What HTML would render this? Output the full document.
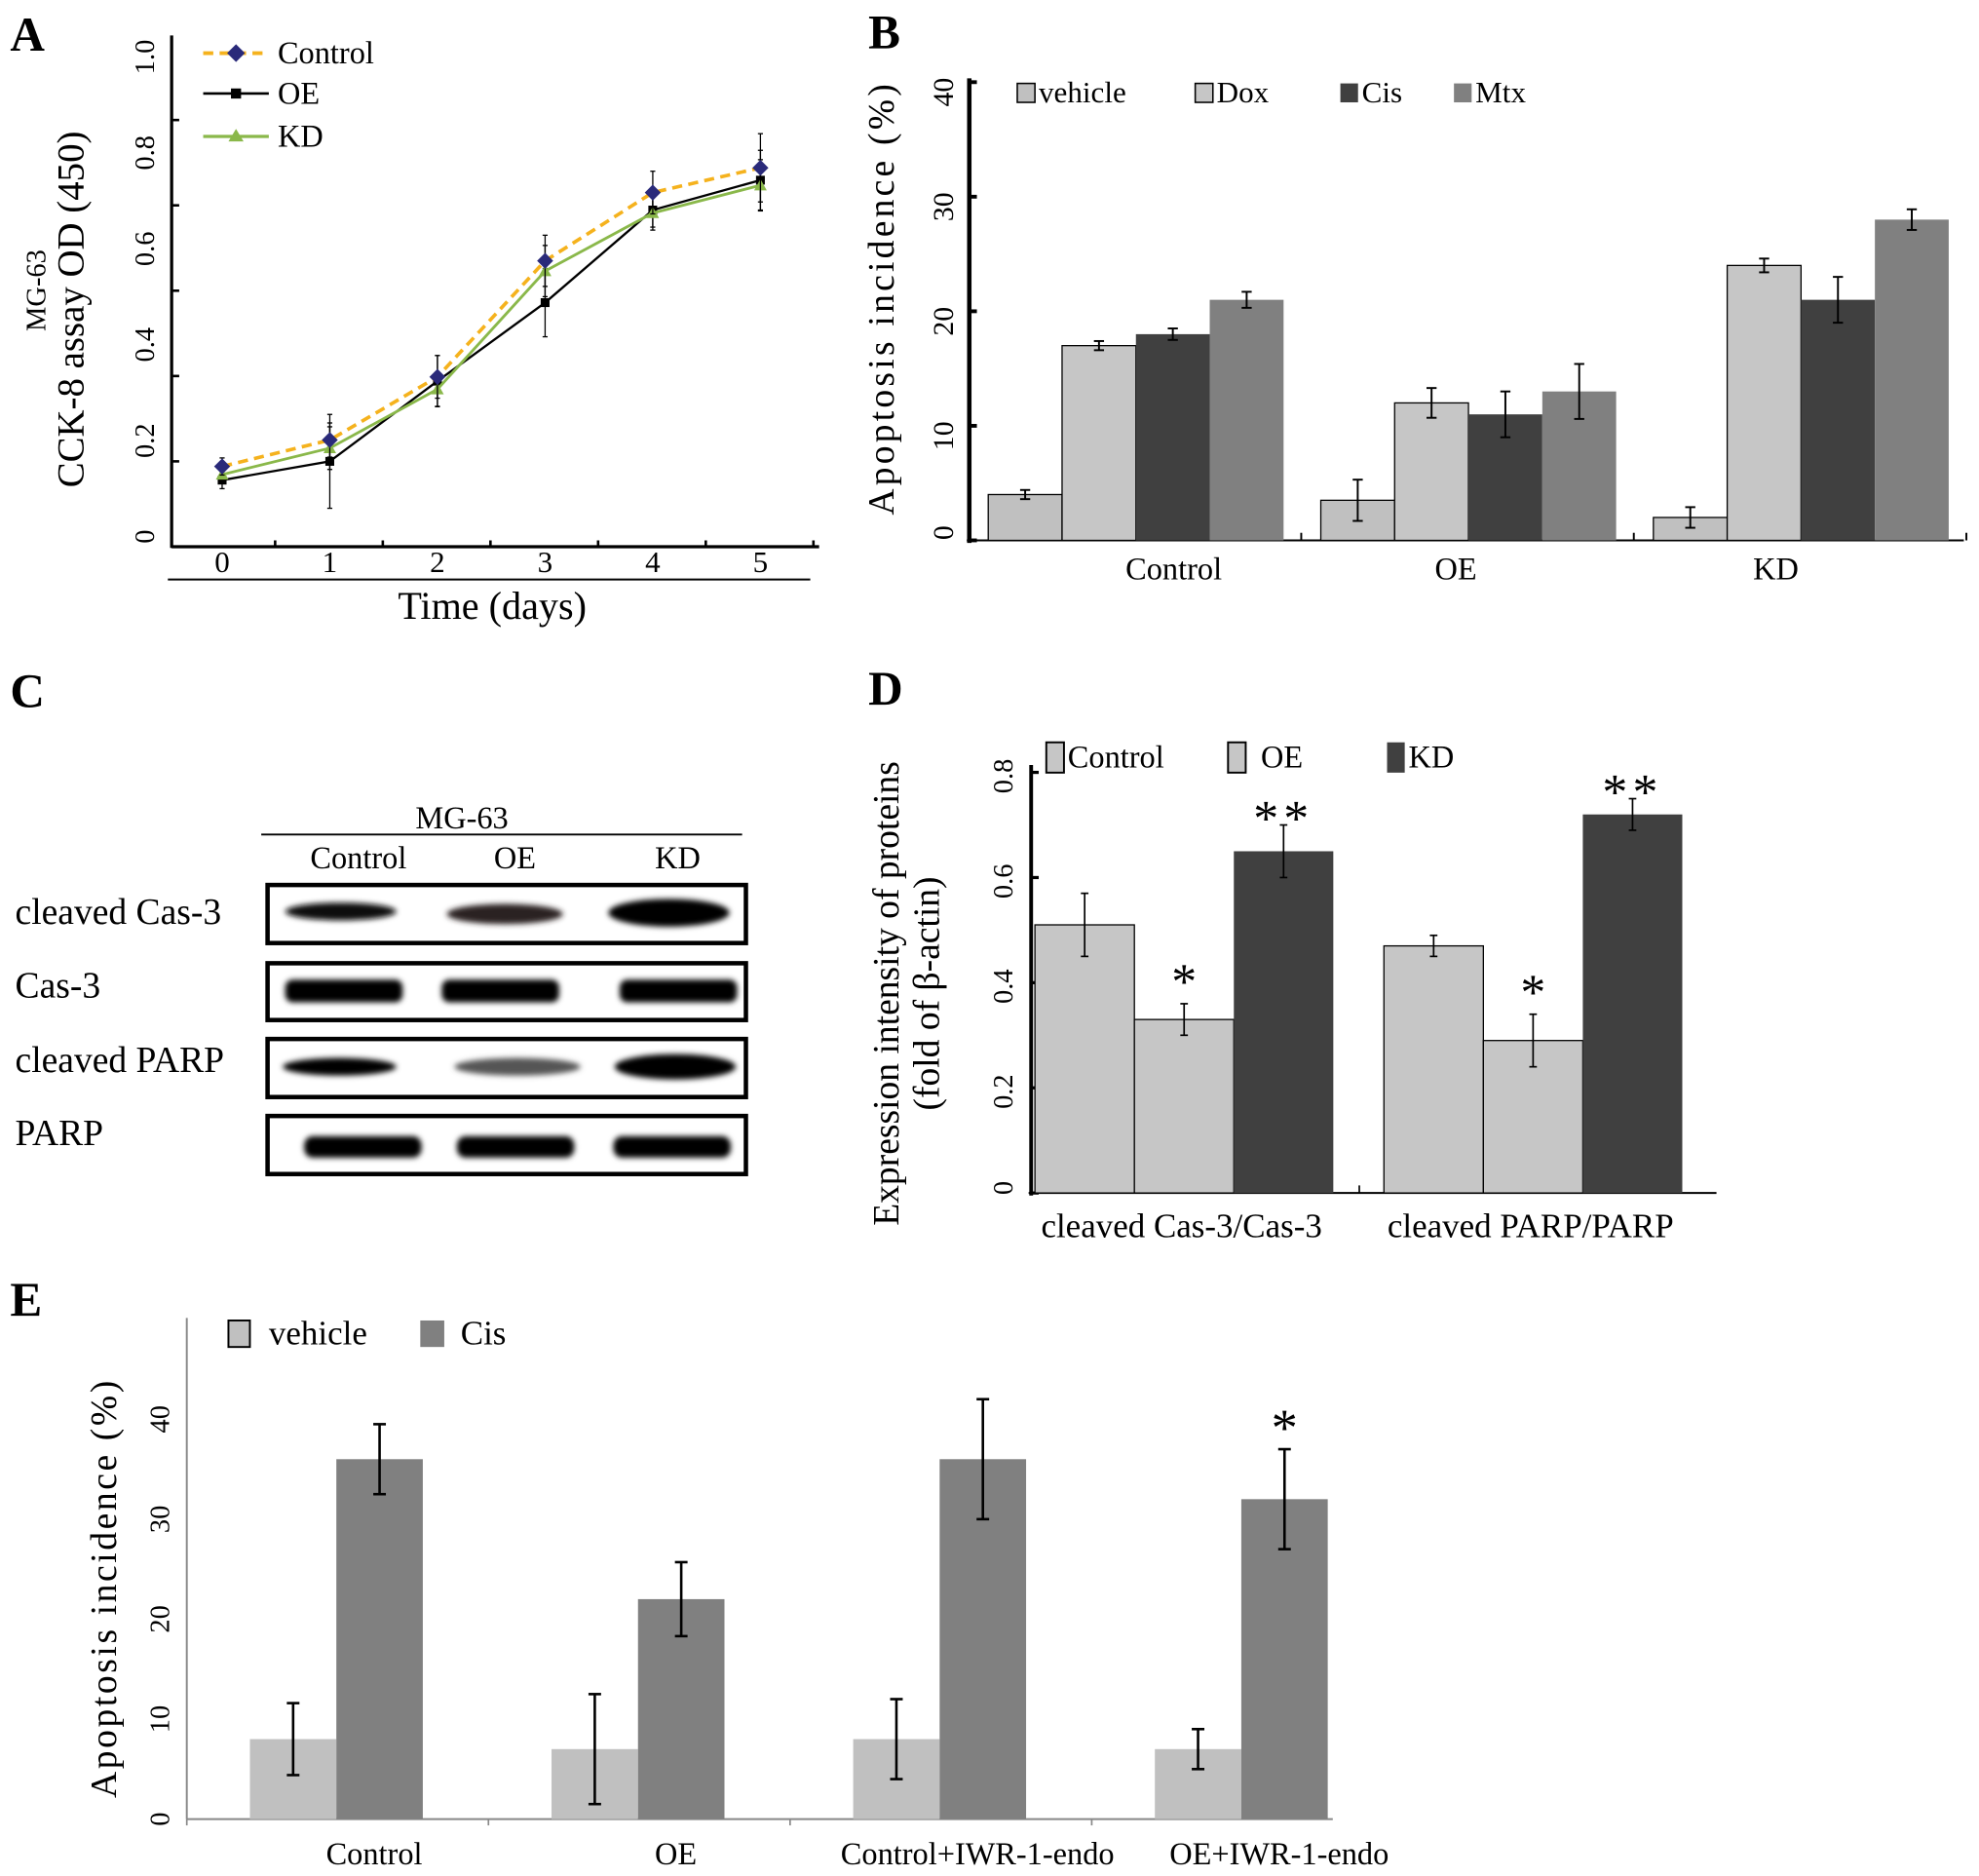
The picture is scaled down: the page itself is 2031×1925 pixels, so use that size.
<!DOCTYPE html>
<html><head><meta charset="utf-8">
<style>
html,body{margin:0;padding:0;background:#fff;}
svg{display:block;font-family:"Liberation Serif",serif;}
</style></head>
<body>
<svg id="fig" width="2031" height="1925" viewBox="0 0 1568 1486" xmlns="http://www.w3.org/2000/svg">
<defs>
<filter id="blur" x="-20%" y="-50%" width="140%" height="200%"><feGaussianBlur stdDeviation="2.2"/></filter>
</defs>
<text x="8" y="40" font-size="38" font-weight="bold">A</text>
<text x="688" y="38" font-size="38" font-weight="bold">B</text>
<text x="8" y="560" font-size="38" font-weight="bold">C</text>
<text x="688" y="558" font-size="38" font-weight="bold">D</text>
<text x="8" y="1042" font-size="38" font-weight="bold">E</text>

<g id="panelA">
  <line x1="136" y1="28" x2="136" y2="434" stroke="#000" stroke-width="2.5"/>
  <line x1="136" y1="433" x2="649" y2="433" stroke="#000" stroke-width="2.5"/>
  <line x1="133" y1="459" x2="642" y2="459" stroke="#000" stroke-width="1.5"/>
  <text x="390" y="490" font-size="31" text-anchor="middle">Time (days)</text>
  <text transform="translate(66,245) rotate(-90)" font-size="30" text-anchor="middle">CCK-8 assay  OD (450)</text>
  <text transform="translate(36,230) rotate(-90)" font-size="22" text-anchor="middle">MG-63</text>
  <line x1="161" y1="42" x2="213" y2="42" stroke="#f5b21d" stroke-width="3" stroke-dasharray="8,5"/>
  <rect x="182" y="37" width="10" height="10" fill="#2a2a7a" transform="rotate(45 187 42)"/>
  <text x="220" y="50" font-size="25">Control</text>
  <line x1="161" y1="74" x2="213" y2="74" stroke="#000" stroke-width="2"/>
  <rect x="183" y="70" width="8" height="8" fill="#000"/>
  <text x="220" y="82" font-size="25">OE</text>
  <line x1="161" y1="108" x2="213" y2="108" stroke="#8ab84a" stroke-width="2.5"/>
  <path d="M187 102 L193 112 L181 112 Z" fill="#8ab84a"/>
  <text x="220" y="116" font-size="25">KD</text>
</g>

<g id="panelB">
  <line x1="768" y1="62" x2="768" y2="430" stroke="#000" stroke-width="3.5"/>
  <line x1="766" y1="428" x2="1556" y2="428" stroke="#000" stroke-width="1.5"/>
  <text transform="translate(708,236) rotate(-90)" font-size="29" letter-spacing="2.5" text-anchor="middle">Apoptosis  incidence (%)</text>
</g>

<g id="panelC">
  <text x="366" y="656" font-size="25" text-anchor="middle">MG-63</text>
  <line x1="207" y1="661" x2="588" y2="661" stroke="#000" stroke-width="1.5"/>
  <text x="284" y="688" font-size="25" text-anchor="middle">Control</text>
  <text x="408" y="688" font-size="25" text-anchor="middle">OE</text>
  <text x="537" y="688" font-size="25" text-anchor="middle">KD</text>
  <text x="12" y="732" font-size="29">cleaved Cas-3</text>
  <text x="12" y="790" font-size="29">Cas-3</text>
  <text x="12" y="849" font-size="29">cleaved PARP</text>
  <text x="12" y="907" font-size="29">PARP</text>
  <g>
    <rect x="212" y="701" width="379" height="46" fill="#fff" stroke="#000" stroke-width="3.5"/>
    <ellipse cx="270" cy="722" rx="44" ry="7" fill="#111" filter="url(#blur)"/>
    <ellipse cx="400" cy="724" rx="46" ry="8" fill="#2a2222" filter="url(#blur)"/>
    <ellipse cx="530" cy="723" rx="48" ry="11" fill="#000" filter="url(#blur)"/>
  </g>
  <g>
    <rect x="212" y="763" width="379" height="45" fill="#fff" stroke="#000" stroke-width="3.5"/>
    <rect x="226" y="776" width="93" height="18" rx="6" fill="#000" filter="url(#blur)"/>
    <rect x="350" y="776" width="93" height="18" rx="6" fill="#000" filter="url(#blur)"/>
    <rect x="491" y="776" width="93" height="18" rx="6" fill="#000" filter="url(#blur)"/>
  </g>
  <g>
    <rect x="212" y="823" width="379" height="46" fill="#fff" stroke="#000" stroke-width="3.5"/>
    <ellipse cx="269" cy="845" rx="45" ry="7" fill="#000" filter="url(#blur)"/>
    <ellipse cx="410" cy="845" rx="50" ry="7" fill="#555" filter="url(#blur)"/>
    <ellipse cx="535" cy="845" rx="48" ry="10" fill="#000" filter="url(#blur)"/>
  </g>
  <g>
    <rect x="212" y="884" width="379" height="46" fill="#fff" stroke="#000" stroke-width="3.5"/>
    <rect x="241" y="900" width="93" height="17" rx="7" fill="#000" filter="url(#blur)"/>
    <rect x="362" y="900" width="93" height="17" rx="7" fill="#000" filter="url(#blur)"/>
    <rect x="486" y="900" width="93" height="17" rx="7" fill="#000" filter="url(#blur)"/>
  </g>
</g>

<g id="panelD">
  <line x1="817" y1="606" x2="817" y2="947" stroke="#000" stroke-width="3"/>
  <line x1="815" y1="945" x2="1360" y2="945" stroke="#000" stroke-width="1.5"/>
  <text transform="translate(712,787) rotate(-90)" font-size="29" text-anchor="middle">Expression intensity of proteins</text>
  <text transform="translate(744,787) rotate(-90)" font-size="29" text-anchor="middle">(fold of β-actin)</text>
</g>

<g id="panelE">
  <line x1="148" y1="1044" x2="148" y2="1441" stroke="#888" stroke-width="1.5"/>
  <line x1="148" y1="1441" x2="1056" y2="1441" stroke="#888" stroke-width="1.5"/>
  <text transform="translate(92,1258) rotate(-90)" font-size="29" letter-spacing="2" text-anchor="middle">Apoptosis  incidence (%)</text>
</g>

<g id="marks"></g>
</svg>

<script>
// ---------- Panel A data ----------
const daysA = [0, 1, 2, 3, 4, 5];
const controlA = [0.188, 0.25, 0.398, 0.67, 0.83, 0.888];
const oeA = [0.156, 0.2, 0.388, 0.572, 0.789, 0.859];
const kdA = [0.169, 0.231, 0.369, 0.646, 0.782, 0.847];
const controlErrA = [0.02, 0.04, 0.05, 0.06, 0.05, 0.08];
const oeErrA = [0.02, 0.11, 0.06, 0.08, 0.04, 0.07];
const kdErrA = [0.02, 0.05, 0.04, 0.06, 0.04, 0.06];
const yTicksA = [0, 0.2, 0.4, 0.6, 0.8, 1.0];
const yTickLabelsA = ["0", "0.2", "0.4", "0.6", "0.8", "1.0"];

// ---------- Panel B data ----------
const groupsB = ["Control", "OE", "KD"];
const seriesNamesB = ["vehicle", "Dox", "Cis", "Mtx"];
const vehicleB = [4, 3.5, 2];
const doxB = [17, 12, 24];
const cisB = [18, 11, 21];
const mtxB = [21, 13, 28];
const vehicleErrB = [0.4, 1.8, 0.9];
const doxErrB = [0.4, 1.3, 0.6];
const cisErrB = [0.5, 2.0, 2.0];
const mtxErrB = [0.7, 2.4, 0.9];
const yTicksB = [0, 10, 20, 30, 40];

// ---------- Panel D data ----------
const groupsD = ["cleaved Cas-3/Cas-3", "cleaved PARP/PARP"];
const seriesNamesD = ["Control", "OE", "KD"];
const controlD = [0.51, 0.47];
const oeD = [0.33, 0.29];
const kdD = [0.65, 0.72];
const controlErrD = [0.06, 0.02];
const oeErrD = [0.03, 0.05];
const kdErrD = [0.05, 0.03];
const oeStarsD = ["*", "*"];
const kdStarsD = ["**", "**"];
const yTicksD = [0, 0.2, 0.4, 0.6, 0.8];

// ---------- Panel E data ----------
const groupsE = ["Control", "OE", "Control+IWR-1-endo", "OE+IWR-1-endo"];
const vehicleE = [8, 7, 8, 7];
const cisE = [36, 22, 36, 32];
const vehicleErrE = [3.6, 5.5, 4, 2];
const cisErrE = [3.5, 3.7, 6, 5];
const starsE = ["", "", "", "*"];
const yTicksE = [0, 10, 20, 30, 40];

const NS = "http://www.w3.org/2000/svg";
const root = document.getElementById("marks");
function mk(tag, attrs, parent) {
  const e = document.createElementNS(NS, tag);
  for (const k in attrs) e.setAttribute(k, attrs[k]);
  (parent || root).appendChild(e);
  return e;
}
function errBar(x, y1, y2, cap, w, name) {
  const g = mk("g", {stroke: "#000", "stroke-width": w});
  
  
  mk("line", {x1: x, x2: x, y1: y1, y2: y2}, g);
  mk("line", {x1: x - cap, x2: x + cap, y1: y1, y2: y1}, g);
  mk("line", {x1: x - cap, x2: x + cap, y1: y2, y2: y2}, g);
}

// ---------- Panel A ----------
const xA = d => 176 + d * 85.3;
const yA = v => 433 - v * 338;
const yLabelA = v => 425 - v * 380;
yTicksA.forEach((t, i) => {
  const tk = mk("line", {x1: 136, x2: 142, y1: yA(t), y2: yA(t), stroke: "#000", "stroke-width": 2});
  
  
  const lb = mk("text", {transform: `translate(122,${yLabelA(t)}) rotate(-90)`, "font-size": 22, "text-anchor": "middle"});
  lb.textContent = yTickLabelsA[i];
  
  
});
daysA.forEach(d => {
  const tk = mk("line", {x1: xA(d) + 42, x2: xA(d) + 42, y1: 433, y2: 428, stroke: "#000", "stroke-width": 2});
  
  
  const lb = mk("text", {x: xA(d), y: 453, "font-size": 24, "text-anchor": "middle"});
  lb.textContent = String(d);
  
  
});
function lineSeries(vals, errs, color, dash, width, name, marker) {
  vals.forEach((v, i) => errBar(xA(daysA[i]), yA(v + errs[i]), yA(v - errs[i]), 2, 1, name + '-error-bar'));
  const pts = vals.map((v, i) => xA(daysA[i]) + "," + yA(v)).join(" ");
  const pl = mk("polyline", {points: pts, fill: "none", stroke: color, "stroke-width": width, "stroke-dasharray": dash});
  
  
  vals.forEach((v, i) => {
    const x = xA(daysA[i]), y = yA(v);
    let m;
    if (marker === "diamond") m = mk("rect", {x: x - 4.5, y: y - 4.5, width: 9, height: 9, fill: "#2a2a7a", transform: `rotate(45 ${x} ${y})`});
    else if (marker === "square") m = mk("rect", {x: x - 3.5, y: y - 3.5, width: 7, height: 7, fill: "#000"});
    else m = mk("path", {d: `M${x} ${y - 5} L${x + 5} ${y + 4} L${x - 5} ${y + 4} Z`, fill: "#8ab84a"});
    
    
  });
}
lineSeries(oeA, oeErrA, "#000", "none", 1.8, "oe", "square");
lineSeries(kdA, kdErrA, "#8ab84a", "none", 2.2, "kd", "tri");
lineSeries(controlA, controlErrA, "#f5b21d", "8,5", 2.8, "control", "diamond");

// ---------- Panel B ----------
const yB = v => 428 - v * 9.075;
const groupStartB = g => 783 + g * 263.5;
const barWB = 58.5;
const seriesB = [vehicleB, doxB, cisB, mtxB];
const errsB = [vehicleErrB, doxErrB, cisErrB, mtxErrB];
const colorsB = ["#c0c0c0", "#c6c6c6", "#404040", "#808080"];
const strokesB = ["#000", "#000", "none", "none"];
yTicksB.forEach(t => {
  const tk = mk("line", {x1: 768, x2: 774, y1: yB(t), y2: yB(t), stroke: "#000", "stroke-width": 3});
  
  
  const lb = mk("text", {transform: `translate(755,${yB(t) + (t === 0 ? -6 : 8)}) rotate(-90)`, "font-size": 23, "text-anchor": "middle"});
  lb.textContent = String(t);
  
  
});
groupsB.forEach((g, gi) => {
  seriesB.forEach((s, si) => {
    const x = groupStartB(gi) + si * barWB;
    const r = mk("rect", {x: x, y: yB(s[gi]), width: barWB, height: yB(0) - yB(s[gi]), fill: colorsB[si], stroke: strokesB[si], "stroke-width": 1});
    
    
    errBar(x + barWB / 2, yB(s[gi] + errsB[si][gi]), yB(s[gi] - errsB[si][gi]), 4, 1.5, 'b-error-bar');
  });
  const lb = mk("text", {x: groupStartB(gi) + 2 * barWB + [30, -10, -20][gi], y: 459, "font-size": 25, "text-anchor": "middle"});
  lb.textContent = g;
  
  
  const tk = mk("line", {x1: groupStartB(gi) + 4 * barWB + 14, x2: groupStartB(gi) + 4 * barWB + 14, y1: 428, y2: 422, stroke: "#000", "stroke-width": 1.5});
  
  
});
[[806, "vehicle"], [947, "Dox"], [1062, "Cis"], [1152, "Mtx"]].forEach((p, i) => {
  const sq = mk("rect", {x: p[0], y: 66, width: 14, height: 15, fill: colorsB[i], stroke: i < 2 ? "#000" : "none", "stroke-width": 1.2});
  
  
  const t = mk("text", {x: p[0] + 17, y: 81, "font-size": 24});
  t.textContent = seriesNamesB[i];
  
  
});

// ---------- Panel D ----------
const yD = v => 945 - v * 416.5;
const groupStartD = g => 820 + g * 276.5;
const barWD = 78.8;
const seriesD = [controlD, oeD, kdD];
const errsD = [controlErrD, oeErrD, kdErrD];
const colorsD = ["#c6c6c6", "#c6c6c6", "#404040"];
yTicksD.forEach(t => {
  const tk = mk("line", {x1: 817, x2: 823, y1: yD(t), y2: yD(t), stroke: "#000", "stroke-width": 2.5});
  
  
  const lb = mk("text", {transform: `translate(802,${yD(t) + (t === 0 ? -4 : 3)}) rotate(-90)`, "font-size": 22, "text-anchor": "middle"});
  lb.textContent = String(t);
  
  
});
groupsD.forEach((g, gi) => {
  seriesD.forEach((s, si) => {
    const x = groupStartD(gi) + si * barWD;
    const r = mk("rect", {x: x, y: yD(s[gi]), width: barWD, height: yD(0) - yD(s[gi]), fill: colorsD[si], stroke: si < 2 ? "#000" : "none", "stroke-width": 1});
    
    
    errBar(x + barWD / 2, yD(s[gi] + errsD[si][gi]), yD(s[gi] - errsD[si][gi]), 3, 1.3, 'd-error-bar');
  });
  const sx1 = groupStartD(gi) + 1.5 * barWD;
  const st1 = mk("text", {x: sx1, y: yD(oeD[gi] + oeErrD[gi]) - 4, "font-size": 40, "text-anchor": "middle"});
  st1.textContent = oeStarsD[gi];
  
  
  const sx2 = groupStartD(gi) + 2.5 * barWD;
  const st2 = mk("text", {x: sx2, y: yD(kdD[gi] + kdErrD[gi]) + 8, "font-size": 40, "text-anchor": "middle", "letter-spacing": 4});
  st2.textContent = kdStarsD[gi];
  
  
  const lb = mk("text", {x: groupStartD(gi) + 1.5 * barWD - 2, y: 980, "font-size": 27, "text-anchor": "middle"});
  lb.textContent = g;
  
  
});
const tkD = mk("line", {x1: 1077, x2: 1077, y1: 945, y2: 939, stroke: "#000", "stroke-width": 1.3});


[[829, "Control"], [973, "OE"], [1099, "KD"]].forEach((p, i) => {
  const sq = mk("rect", {x: p[0], y: 588, width: 14, height: 24, fill: colorsD[i], stroke: i < 2 ? "#000" : "none", "stroke-width": 1.5});
  
  
  const t = mk("text", {x: p[0] + (i === 1 ? 26 : 17), y: 608, "font-size": 25});
  t.textContent = seriesNamesD[i];
  
  
});

// ---------- Panel E ----------
const yE = v => 1441 - v * 7.92;
const groupStartE = g => 198 + g * 239;
const barWE = 68.5;
yTicksE.forEach(t => {
  const lb = mk("text", {transform: `translate(134,${yE(t)}) rotate(-90)`, "font-size": 22, "text-anchor": "middle"});
  lb.textContent = String(t);
  
  
});
groupsE.forEach((g, gi) => {
  const x0 = groupStartE(gi);
  const r1 = mk("rect", {x: x0, y: yE(vehicleE[gi]), width: barWE, height: yE(0) - yE(vehicleE[gi]), fill: "#c0c0c0"});
  
  
  const r2 = mk("rect", {x: x0 + barWE, y: yE(cisE[gi]), width: barWE, height: yE(0) - yE(cisE[gi]), fill: "#808080"});
  
  
  errBar(x0 + barWE / 2, yE(vehicleE[gi] + vehicleErrE[gi]), yE(vehicleE[gi] - vehicleErrE[gi]), 5, 2, 'e-error-bar-vehicle');
  errBar(x0 + 1.5 * barWE, yE(cisE[gi] + cisErrE[gi]), yE(cisE[gi] - cisErrE[gi]), 5, 2, 'e-error-bar-cis');
  if (starsE[gi]) {
    const st = mk("text", {x: x0 + 1.5 * barWE, y: yE(cisE[gi] + cisErrE[gi]) - 3, "font-size": 42, "text-anchor": "middle"});
    st.textContent = starsE[gi];
    
    
  }
  const lb = mk("text", {x: x0 + barWE + 30, y: 1477, "font-size": 25, "text-anchor": "middle"});
  lb.textContent = g;
  
  
  const tk = mk("line", {x1: x0 - 50, x2: x0 - 50, y1: 1441, y2: 1446, stroke: "#888", "stroke-width": 1.3});
  
  
});
const sqE1 = mk("rect", {x: 181, y: 1046, width: 17, height: 21, fill: "#c0c0c0", stroke: "#000", "stroke-width": 1.5});


const tE1 = mk("text", {x: 213, y: 1065, "font-size": 27});
tE1.textContent = "vehicle";


const sqE2 = mk("rect", {x: 333, y: 1046, width: 19, height: 21, fill: "#808080"});


const tE2 = mk("text", {x: 365, y: 1065, "font-size": 27});
tE2.textContent = "Cis";


</script>
</body></html>
